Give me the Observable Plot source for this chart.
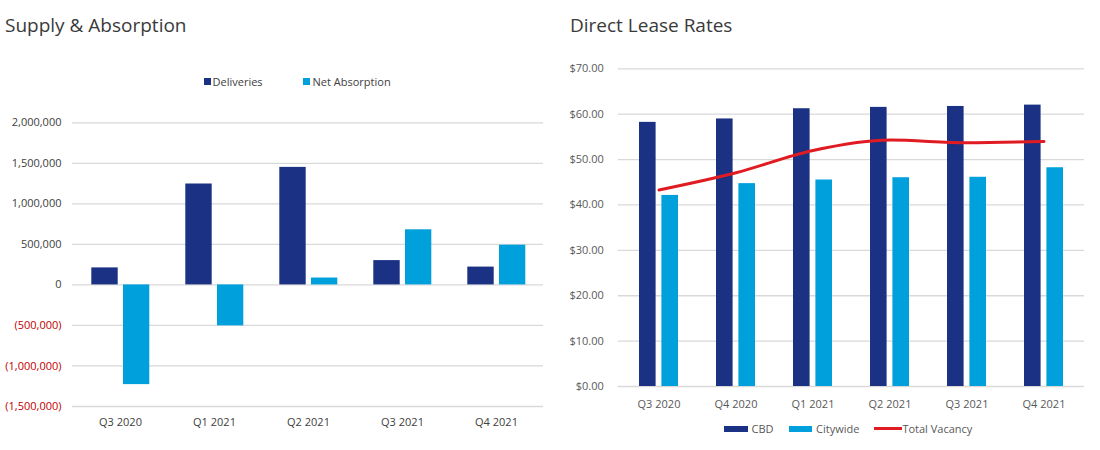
<!DOCTYPE html>
<html>
<head>
<meta charset="utf-8">
<script src="https://cdn.jsdelivr.net/npm/d3@7"></script>
<script src="https://cdn.jsdelivr.net/npm/@observablehq/plot@0.6"></script>
<style>
  html, body { margin: 0; padding: 0; background: #fff; }
  #wrap { position: relative; width: 1100px; height: 450px; font-family: "Open Sans", sans-serif; color: #404040; overflow: hidden; }
  .title { position: absolute; font-size: 19px; line-height: 19px; color: #3a3a3a; white-space: nowrap; }
  .legend { position: absolute; display: flex; align-items: center; font-size: 11px; line-height: 11px; color: #404040; white-space: nowrap; }
  .legend .item { display: flex; align-items: center; }
  .panel { position: absolute; }
</style>
</head>
<body>
<div id="wrap">
  <div class="title" style="left:5px; top:16px;">Supply &amp; Absorption</div>
  <div class="title" style="left:570px; top:16px;">Direct Lease Rates</div>
  <div class="legend" id="legL" style="left:204px; top:76px;"></div>
  <div class="legend" id="legR" style="left:724px; top:423px;"></div>
  <div class="panel" id="left" style="left:0px; top:100px;"></div>
  <div class="panel" id="right" style="left:550px; top:50px;"></div>
</div>
<script>
// ---- Supply & Absorption ----
const supplyQuarters = ["Q3 2020", "Q1 2021", "Q2 2021", "Q3 2021", "Q4 2021"];
const deliveries = [210000, 1245000, 1450000, 300000, 220000];
const netAbsorption = [-1230000, -505000, 85000, 680000, 490000];
const supplyTicks = [-1500000, -1000000, -500000, 0, 500000, 1000000, 1500000, 2000000];

// ---- Direct Lease Rates ----
const rateQuarters = ["Q3 2020", "Q4 2020", "Q1 2021", "Q2 2021", "Q3 2021", "Q4 2021"];
const cbdRates = [58.2, 58.95, 61.2, 61.5, 61.7, 62.0];
const citywideRates = [42.1, 44.7, 45.5, 46.0, 46.1, 48.2];
const totalVacancy = [43.3, 47.1, 52.0, 54.3, 53.7, 54.0];
const rateTicks = [0, 10, 20, 30, 40, 50, 60, 70];

const NAVY = "#1b3183";
const CYAN = "#00a0dc";
const RED = "#e11b22";
const GRID = "#d9d9d9";

const supplyTable = supplyQuarters.map((q, i) => ({quarter: q, deliveries: deliveries[i], net: netAbsorption[i]}));
const rateTable = rateQuarters.map((q, i) => ({quarter: q, cbd: cbdRates[i], city: citywideRates[i], vacancy: totalVacancy[i]}));

const fmtNum = d3.format(",");
const fmtSupply = d => d < 0 ? "(" + fmtNum(-d) + ")" : fmtNum(d);

const left = Plot.plot({
  width: 550,
  height: 335,
  marginLeft: 72,
  marginRight: 7,
  marginTop: 22.3,
  marginBottom: 29,
  style: {fontFamily: "Open Sans", fontSize: "11px", color: "#404040", background: "transparent"},
  x: {type: "band", domain: supplyQuarters, padding: 0, axis: null},
  y: {domain: [-1500000, 2000000], axis: null},
  marks: [
    Plot.gridY(supplyTicks, {stroke: GRID, strokeOpacity: 1, strokeWidth: 1.3}),
    Plot.barY(supplyTable, {x: "quarter", y1: 0, y2: "deliveries", fill: NAVY, insetLeft: 18.3, insetRight: 49.3}),
    Plot.barY(supplyTable, {x: "quarter", y1: 0, y2: "net", fill: CYAN, insetLeft: 50, insetRight: 17.7}),
    Plot.axisY(supplyTicks.filter(d => d >= 0), {tickSize: 0, tickPadding: 11, tickFormat: fmtSupply, fill: "#404040", label: null}),
    Plot.axisY(supplyTicks.filter(d => d < 0), {tickSize: 0, tickPadding: 11, tickFormat: fmtSupply, fill: "#c00000", label: null}),
    Plot.axisX({tickSize: 0, tickPadding: 12, fill: "#404040", label: null})
  ]
});
document.getElementById("left").appendChild(left);

const right = Plot.plot({
  width: 550,
  height: 370,
  marginLeft: 67.7,
  marginRight: 16,
  marginTop: 18.3,
  marginBottom: 34,
  style: {fontFamily: "Open Sans", fontSize: "11px", color: "#595959", background: "transparent"},
  x: {type: "band", domain: rateQuarters, padding: 0, axis: null},
  y: {domain: [0, 70], axis: null},
  marks: [
    Plot.gridY(rateTicks, {stroke: GRID, strokeOpacity: 1, strokeWidth: 1.3}),
    Plot.barY(rateTable, {x: "quarter", y1: 0, y2: "cbd", fill: NAVY, insetLeft: 19, insetRight: 41.4}),
    Plot.barY(rateTable, {x: "quarter", y1: 0, y2: "city", fill: CYAN, insetLeft: 41.4, insetRight: 19}),
    Plot.line(rateTable, {x: "quarter", y: "vacancy", stroke: RED, strokeWidth: 3, curve: "monotone-x"}),
    Plot.axisY(rateTicks, {tickSize: 0, tickPadding: 14.4, tickFormat: d3.format("$.2f"), fill: "#595959", label: null}),
    Plot.axisX({tickSize: 0, tickPadding: 13.4, fill: "#595959", label: null})
  ]
});
document.getElementById("right").appendChild(right);

// ---- Legends (HTML) ----
function swatchItem(label, color, w, h, gap, marginRight) {
  const item = document.createElement("div");
  item.className = "item";
  item.style.marginRight = marginRight + "px";
  const sw = document.createElement("span");
  sw.style.cssText = `display:inline-block;width:${w}px;height:${h}px;background:${color};margin-right:${gap}px;`;
  const tx = document.createElement("span");
  tx.textContent = label;
  item.appendChild(sw);
  item.appendChild(tx);
  return item;
}
const legL = document.getElementById("legL");
legL.appendChild(swatchItem("Deliveries", NAVY, 7, 7, 1.5, 40));
legL.appendChild(swatchItem("Net Absorption", CYAN, 7, 7, 3, 0));

const legR = document.getElementById("legR");
legR.style.color = "#595959";
legR.appendChild(swatchItem("CBD", NAVY, 23.5, 6, 4, 15));
legR.appendChild(swatchItem("Citywide", CYAN, 23.5, 6, 4, 15));
legR.appendChild(swatchItem("Total Vacancy", RED, 28, 3, 0, 0));
</script>
</body>
</html>
